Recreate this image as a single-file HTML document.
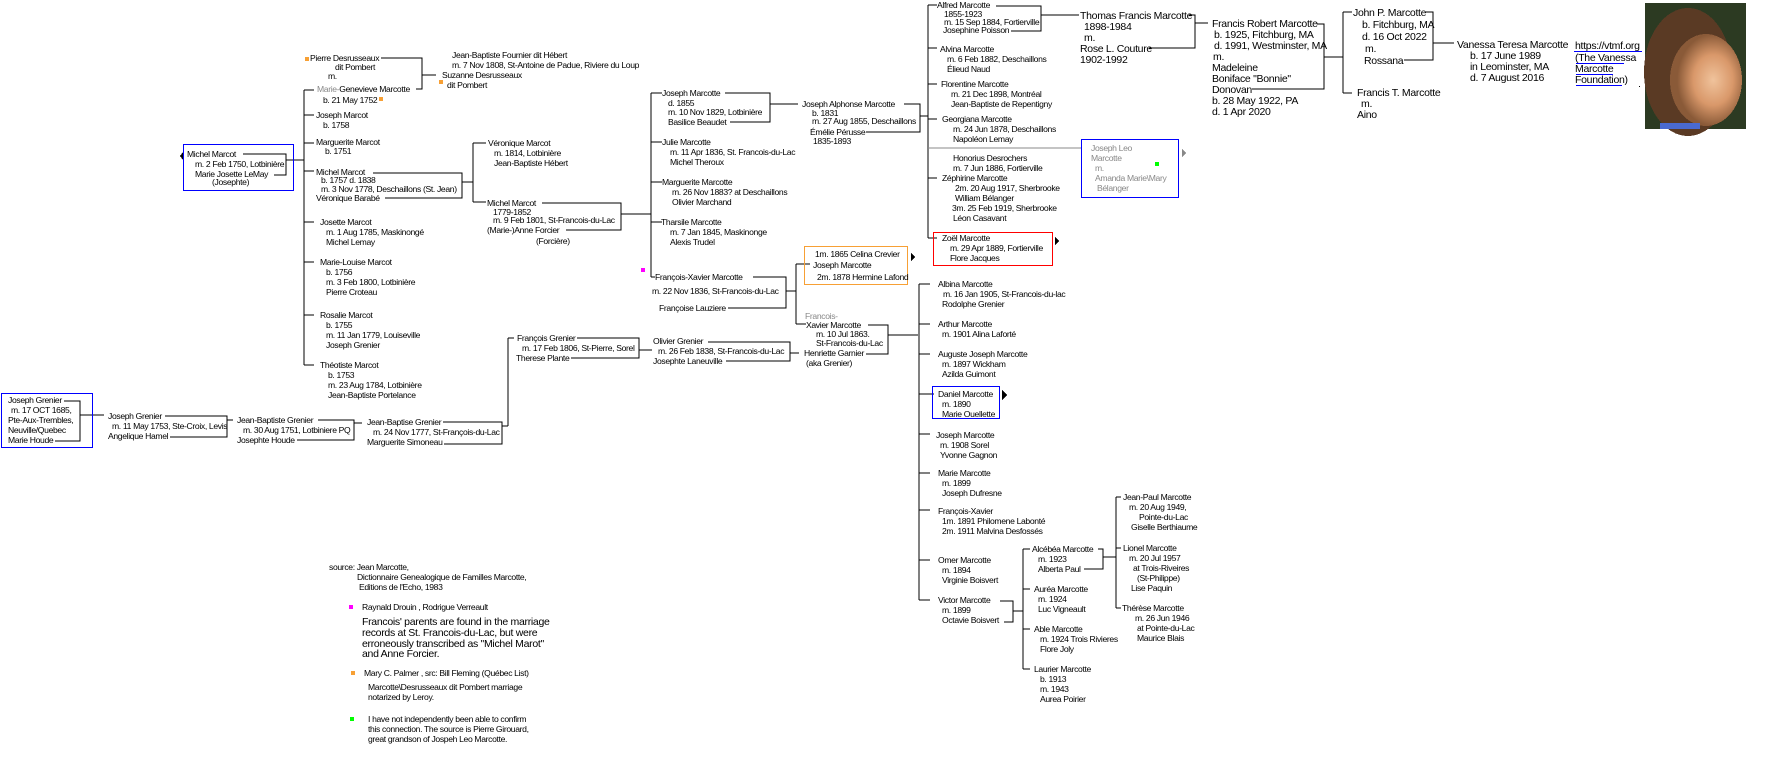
<!DOCTYPE html>
<html><head><meta charset="utf-8"><style>
html,body{margin:0;padding:0;background:#fff;}
svg{display:block}
.s{font-family:"Liberation Sans",sans-serif;font-size:8.6px;letter-spacing:-0.35px;fill:#000;}
.a{font-family:"Liberation Sans",sans-serif;font-size:10.5px;letter-spacing:-0.3px;fill:#000;}
.g{fill:#888;}
.l{fill:none;stroke:#000;stroke-width:1.2;}
</style></head><body>
<svg width="1776" height="762" viewBox="0 0 1776 762" xmlns="http://www.w3.org/2000/svg" shape-rendering="crispEdges">
<defs>
<radialGradient id="face" cx="0.6" cy="0.5" r="0.5"><stop offset="0" stop-color="#f0c39c"/><stop offset="0.55" stop-color="#d9986a"/><stop offset="1" stop-color="#8a5a38"/></radialGradient>
</defs>
<g class="l">
<path d="M381 58H422V89H416M422 75H436"/>
<path d="M243 154H286V175H274M286 160H304"/>
<path d="M304 90V365M304 90H314M304 115H314M304 143H314M304 171H314M304 222H314M304 262H314M304 315H314M304 365H314"/>
<path d="M373 173H462V198H385M462 182H473M473 143V202M473 143H486M473 202H486"/>
<path d="M542 203H621V230H566M621 214H651"/>
<path d="M651 93V277M651 93H662M651 142H662M651 182H662M651 222H662M651 277H655"/>
<path d="M725 93H770V122H730M770 104H798"/>
<path d="M904 104H920V132H866M920 116H928"/>
<path d="M928 5V238M928 5H937M928 48H937M928 84H937M928 119H937M928 178H937M928 238H937"/>
<path d="M996 6H1041V31H1011M1041 15H1079"/>
<path d="M1149 48H1195V15H1189M1195 23H1208"/>
<path d="M1252 89H1324V24H1317M1324 57H1343M1343 12V93M1343 12H1352M1343 93H1352"/>
<path d="M1404 60H1433V12H1426M1433 43H1454"/>
<path d="M64 401H80V441H55M80 415H104"/>
<path d="M165 416H227V437H170M227 420H233"/>
<path d="M318 420H354V440H297M354 423H362"/>
<path d="M443 422H502V444H444M502 426H508M508 338V426M508 338H514"/>
<path d="M577 338H639V358H571M639 350H652"/>
<path d="M708 342H790V361H726M790 353H799"/>
<path d="M753 277H786V308H728M786 291H796M796 264V324M796 264H810M796 324H806"/>
<path d="M868 325H888V354H866M888 335H918"/>
<path d="M919 284V600M919 284H930M919 324H930M919 354H930M919 394H934M919 434H930M919 473H930M919 510H930M919 560H930M919 600H930"/>
<path d="M1000 601H1013V622H1004M1013 611H1023M1023 549V669M1023 549H1030M1023 589H1030M1023 629H1030M1023 669H1030"/>
<path d="M1084 569H1103V549H1098M1103 557H1116M1116 497V608M1116 497H1121M1116 548H1121M1116 608H1121"/>
</g>
<path d="M928 148H1081" stroke="#888" stroke-width="1.2" fill="none"/>
<rect x="183.5" y="144.5" width="110" height="46" fill="none" stroke="#00f" stroke-width="1.2"/>
<rect x="1.5" y="393.5" width="91" height="54" fill="none" stroke="#00f" stroke-width="1.2"/>
<rect x="804.5" y="246.5" width="103" height="38" fill="none" stroke="#f7a035" stroke-width="1.2"/>
<rect x="933.5" y="232.5" width="119" height="33" fill="none" stroke="#f00" stroke-width="1.2"/>
<rect x="1081.5" y="139.5" width="97" height="58" fill="none" stroke="#00f" stroke-width="1.2"/>
<rect x="932.5" y="386.5" width="67" height="32" fill="none" stroke="#00f" stroke-width="1.2"/>
<path d="M183 152L180 156L183 160Z" fill="#000"/>
<path d="M911 253L915 257L911 261Z" fill="#000"/>
<path d="M1055 237L1059 241L1055 245Z" fill="#000"/>
<path d="M1182 149L1186 153L1182 157Z" fill="#888"/>
<path d="M1002 390L1007 395L1002 400Z" fill="#000"/>
<rect x="305" y="57" width="4" height="4" fill="#f7a035"/>
<rect x="379" y="97" width="4" height="4" fill="#f7a035"/>
<rect x="439" y="80" width="4" height="4" fill="#f7a035"/>
<rect x="641" y="268" width="4" height="4" fill="#f0f"/>
<rect x="1155" y="162" width="4" height="4" fill="#0f0"/>
<rect x="349" y="605" width="4" height="4" fill="#f0f"/>
<rect x="351" y="671" width="4" height="4" fill="#f7a035"/>
<rect x="350" y="717" width="4" height="4" fill="#0f0"/>
<rect x="1645" y="3" width="101" height="126" fill="#2c3a22"/>
<ellipse cx="1688" cy="72" rx="44" ry="64" fill="#5a3a24"/>
<ellipse cx="1706" cy="80" rx="36" ry="46" fill="url(#face)"/>
<rect x="1660" y="123" width="40" height="6" fill="#4a6ad0"/>
<g class="s">
<text x="310" y="61">Pierre Desrusseaux</text>
<text x="335" y="70">dit Pombert</text>
<text x="328" y="79">m.</text>
<text x="317" y="92"><tspan class="g">Marie-</tspan>Genevieve Marcotte</text>
<text x="323" y="103">b. 21 May 1752</text>
<text x="452" y="58">Jean-Baptiste Fournier dit Hébert</text>
<text x="452" y="68">m. 7 Nov 1808, St-Antoine de Padue, Riviere du Loup</text>
<text x="442" y="78">Suzanne Desrusseaux</text>
<text x="447" y="88">dit Pombert</text>
<text x="187" y="157">Michel Marcot</text>
<text x="195" y="167">m. 2 Feb 1750, Lotbinière</text>
<text x="195" y="177">Marie Josette  LeMay</text>
<text x="212" y="185">(Josephte)</text>
<text x="316" y="118">Joseph Marcot</text>
<text x="323" y="128">b. 1758</text>
<text x="316" y="145">Marguerite Marcot</text>
<text x="325" y="154">b. 1751</text>
<text x="316" y="175">Michel Marcot</text>
<text x="321" y="183">b. 1757   d. 1838</text>
<text x="321" y="192">m. 3 Nov  1778, Deschaillons (St. Jean)</text>
<text x="316" y="201">Véronique Barabé</text>
<text x="488" y="146">Véronique Marcot</text>
<text x="494" y="156">m.  1814, Lotbinière</text>
<text x="494" y="166">Jean-Baptiste Hébert</text>
<text x="487" y="206">Michel Marcot</text>
<text x="493" y="215">1779-1852</text>
<text x="493" y="223">m.  9 Feb 1801, St-Francois-du-Lac</text>
<text x="487" y="233">(Marie-)Anne Forcier</text>
<text x="536" y="244">(Forcière)</text>
<text x="320" y="225">Josette Marcot</text>
<text x="326" y="235">m. 1 Aug 1785, Maskinongé</text>
<text x="326" y="245">Michel Lemay</text>
<text x="320" y="265">Marie-Louise Marcot</text>
<text x="326" y="275">b. 1756</text>
<text x="326" y="285">m. 3 Feb 1800, Lotbinière</text>
<text x="326" y="295">Pierre Croteau</text>
<text x="320" y="318">Rosalie Marcot</text>
<text x="326" y="328">b. 1755</text>
<text x="326" y="338">m. 11 Jan 1779, Louiseville</text>
<text x="326" y="348">Joseph Grenier</text>
<text x="320" y="368">Théotiste Marcot</text>
<text x="328" y="378">b. 1753</text>
<text x="328" y="388">m. 23 Aug 1784, Lotbinière</text>
<text x="328" y="398">Jean-Baptiste Portelance</text>
<text x="8" y="403">Joseph Grenier</text>
<text x="11" y="413">m. 17 OCT 1685,</text>
<text x="8" y="423">Pte-Aux-Trembles,</text>
<text x="8" y="433">Neuville/Quebec</text>
<text x="8" y="443">Marie Houde</text>
<text x="108" y="419">Joseph Grenier</text>
<text x="112" y="429">m. 11 May 1753, Ste-Croix, Levis</text>
<text x="108" y="439">Angelique Hamel</text>
<text x="237" y="423">Jean-Baptiste Grenier</text>
<text x="243" y="433">m.  30 Aug 1751, Lotbiniere PQ</text>
<text x="237" y="443">Josephte Houde</text>
<text x="367" y="425">Jean-Baptise Grenier</text>
<text x="373" y="435">m. 24 Nov 1777, St-François-du-Lac</text>
<text x="367" y="445">Marguerite Simoneau</text>
<text x="517" y="341">François Grenier</text>
<text x="522" y="351">m. 17 Feb 1806, St-Pierre, Sorel</text>
<text x="516" y="361">Therese Plante</text>
<text x="653" y="344">Olivier Grenier</text>
<text x="658" y="354">m. 26 Feb 1838, St-Francois-du-Lac</text>
<text x="653" y="364">Josephte Laneuville</text>
<text x="805" y="319" class="s g">Francois-</text>
<text x="806" y="328">Xavier Marcotte</text>
<text x="816" y="337">m. 10 Jul 1863.</text>
<text x="816" y="346">St-Francois-du-Lac</text>
<text x="804" y="356">Henriette Garnier</text>
<text x="806" y="366">(aka Grenier)</text>
<text x="662" y="96">Joseph Marcotte</text>
<text x="668" y="106">d. 1855</text>
<text x="668" y="115">m. 10 Nov 1829, Lotbinière</text>
<text x="668" y="125">Basilice Beaudet</text>
<text x="662" y="145">Julie Marcotte</text>
<text x="670" y="155">m. 11 Apr 1836, St. Francois-du-Lac</text>
<text x="670" y="165">Michel Theroux</text>
<text x="662" y="185">Marguerite Marcotte</text>
<text x="672" y="195">m. 26 Nov 1883? at Deschaillons</text>
<text x="672" y="205">Olivier Marchand</text>
<text x="661" y="225">Tharsile Marcotte</text>
<text x="670" y="235">m. 7 Jan 1845, Maskinonge</text>
<text x="670" y="245">Alexis Trudel</text>
<text x="655" y="280">François-Xavier Marcotte</text>
<text x="652" y="294">m. 22 Nov 1836, St-Francois-du-Lac</text>
<text x="659" y="311">Françoise Lauziere</text>
<text x="815" y="257">1m. 1865 Celina Crevier</text>
<text x="813" y="268">Joseph Marcotte</text>
<text x="817" y="280">2m. 1878 Hermine Lafond</text>
<text x="802" y="107">Joseph Alphonse Marcotte</text>
<text x="812" y="116">b. 1831</text>
<text x="812" y="124">m. 27 Aug 1855, Deschaillons</text>
<text x="810" y="135">Émélie Pérusse</text>
<text x="813" y="144">1835-1893</text>
<text x="937" y="8">Alfred Marcotte</text>
<text x="944" y="17">1855-1923</text>
<text x="944" y="25">m. 15 Sep 1884, Fortierville</text>
<text x="943" y="33">Josephine Poisson</text>
<text x="940" y="52">Alvina Marcotte</text>
<text x="947" y="62">m. 6 Feb 1882, Deschaillons</text>
<text x="947" y="72">Élieud Naud</text>
<text x="941" y="87">Florentine Marcotte</text>
<text x="951" y="97">m. 21 Dec 1898, Montréal</text>
<text x="951" y="107">Jean-Baptiste de Repentigny</text>
<text x="942" y="122">Georgiana Marcotte</text>
<text x="953" y="132">m. 24 Jun 1878, Deschaillons</text>
<text x="953" y="142">Napoléon Lemay</text>
<text x="953" y="161">Honorius Desrochers</text>
<text x="953" y="171">m. 7 Jun 1886, Fortierville</text>
<text x="942" y="181">Zéphirine Marcotte</text>
<text x="955" y="191">2m. 20 Aug 1917, Sherbrooke</text>
<text x="955" y="201">William Bélanger</text>
<text x="952" y="211">3m. 25 Feb 1919, Sherbrooke</text>
<text x="953" y="221">Léon Casavant</text>
<text x="942" y="241">Zoël Marcotte</text>
<text x="950" y="251">m. 29 Apr 1889, Fortierville</text>
<text x="950" y="261">Flore Jacques</text>
<text x="1091" y="151" class="s g">Joseph Leo</text>
<text x="1091" y="161" class="s g">Marcotte</text>
<text x="1095" y="171" class="s g">m.</text>
<text x="1095" y="181" class="s g">Amanda Marie\Mary</text>
<text x="1097" y="191" class="s g">Bélanger</text>
<text x="938" y="287">Albina Marcotte</text>
<text x="943" y="297">m. 16 Jan 1905, St-Francois-du-lac</text>
<text x="942" y="307">Rodolphe Grenier</text>
<text x="938" y="327">Arthur Marcotte</text>
<text x="942" y="337">m. 1901 Alina Laforté</text>
<text x="938" y="357">Auguste Joseph Marcotte</text>
<text x="942" y="367">m. 1897 Wickham</text>
<text x="942" y="377">Azilda Guimont</text>
<text x="938" y="397">Daniel Marcotte</text>
<text x="942" y="407">m. 1890</text>
<text x="942" y="417">Marie Ouellette</text>
<text x="936" y="438">Joseph Marcotte</text>
<text x="940" y="448">m. 1908 Sorel</text>
<text x="940" y="458">Yvonne Gagnon</text>
<text x="938" y="476">Marie Marcotte</text>
<text x="942" y="486">m. 1899</text>
<text x="942" y="496">Joseph Dufresne</text>
<text x="938" y="514">François-Xavier</text>
<text x="942" y="524">1m. 1891 Philomene Labonté</text>
<text x="942" y="534">2m. 1911 Malvina Desfossés</text>
<text x="938" y="563">Omer Marcotte</text>
<text x="942" y="573">m. 1894</text>
<text x="942" y="583">Virginie Boisvert</text>
<text x="938" y="603">Victor Marcotte</text>
<text x="942" y="613">m. 1899</text>
<text x="942" y="623">Octavie Boisvert</text>
<text x="1032" y="552">Alcébéa Marcotte</text>
<text x="1038" y="562">m. 1923</text>
<text x="1038" y="572">Alberta Paul</text>
<text x="1034" y="592">Auréa Marcotte</text>
<text x="1038" y="602">m. 1924</text>
<text x="1038" y="612">Luc Vigneault</text>
<text x="1034" y="632">Able Marcotte</text>
<text x="1040" y="642">m. 1924 Trois Rivieres</text>
<text x="1040" y="652">Flore Joly</text>
<text x="1034" y="672">Laurier Marcotte</text>
<text x="1040" y="682">b. 1913</text>
<text x="1040" y="692">m. 1943</text>
<text x="1040" y="702">Aurea Poirier</text>
<text x="1123" y="500">Jean-Paul Marcotte</text>
<text x="1129" y="510">m. 20 Aug 1949,</text>
<text x="1139" y="520">Pointe-du-Lac</text>
<text x="1131" y="530">Giselle Berthiaume</text>
<text x="1123" y="551">Lionel Marcotte</text>
<text x="1129" y="561">m. 20 Jul 1957</text>
<text x="1133" y="571">at Trois-Riveires</text>
<text x="1137" y="581">(St-Philippe)</text>
<text x="1131" y="591">Lise Paquin</text>
<text x="1122" y="611">Thérèse Marcotte</text>
<text x="1135" y="621">m. 26 Jun 1946</text>
<text x="1137" y="631">at Pointe-du-Lac</text>
<text x="1137" y="641">Maurice Blais</text>
<text x="329" y="570">source: Jean Marcotte,</text>
<text x="357" y="580">Dictionnaire Genealogique de Familles Marcotte,</text>
<text x="359" y="590">Editions de l'Echo,  1983</text>
<text x="362" y="610">Raynald Drouin ,     Rodrigue Verreault</text>
<text x="364" y="676">Mary C. Palmer ,  src: Bill Fleming (Québec List)</text>
<text x="368" y="690">Marcotte\Desrusseaux dit Pombert marriage</text>
<text x="368" y="700">notarized by Leroy.</text>
<text x="368" y="722">I have not independently been able to confirm</text>
<text x="368" y="732">this connection. The source is Pierre Girouard,</text>
<text x="368" y="742">great grandson of Jospeh Leo Marcotte.</text>
</g>
<g class="a">
<text x="1080" y="19">Thomas Francis Marcotte</text>
<text x="1084" y="30">1898-1984</text>
<text x="1084" y="41">m.</text>
<text x="1080" y="52">Rose L. Couture</text>
<text x="1080" y="63">1902-1992</text>
<text x="1212" y="27">Francis Robert Marcotte</text>
<text x="1214" y="38">b. 1925, Fitchburg, MA</text>
<text x="1214" y="49">d. 1991, Westminster, MA</text>
<text x="1213" y="60">m.</text>
<text x="1212" y="71">Madeleine</text>
<text x="1212" y="82">Boniface "Bonnie"</text>
<text x="1212" y="93">Donovan</text>
<text x="1212" y="104">b. 28 May 1922, PA</text>
<text x="1212" y="115">d. 1 Apr 2020</text>
<text x="1353" y="16">John P. Marcotte</text>
<text x="1362" y="28">b. Fitchburg, MA</text>
<text x="1362" y="40">d. 16 Oct 2022</text>
<text x="1365" y="52">m.</text>
<text x="1364" y="64">Rossana</text>
<text x="1357" y="96">Francis T. Marcotte</text>
<text x="1361" y="107">m.</text>
<text x="1357" y="118">Aino</text>
<text x="1457" y="48">Vanessa Teresa Marcotte</text>
<text x="1470" y="59">b. 17 June 1989</text>
<text x="1470" y="70">in Leominster, MA</text>
<text x="1470" y="81">d. 7 August 2016</text>
<text x="1575" y="49">https://vtmf.org</text>
<text x="1575" y="61">(The Vanessa</text>
<text x="1575" y="72">Marcotte</text>
<text x="1575" y="83">Foundation)</text>
<text x="362" y="625">Francois' parents are found in the marriage</text>
<text x="362" y="636">records at St. Francois-du-Lac, but were</text>
<text x="362" y="647">erroneously transcribed  as "Michel Marot"</text>
<text x="362" y="657">and Anne Forcier.</text>
</g>
<g stroke="#00f" stroke-width="1">
<path d="M1574 51.5H1642M1576 63.5H1624M1576 74.5H1613M1576 85.5H1622"/>
</g>
<rect x="1639" y="86" width="1" height="1" fill="#000"/>
</svg>
</body></html>
